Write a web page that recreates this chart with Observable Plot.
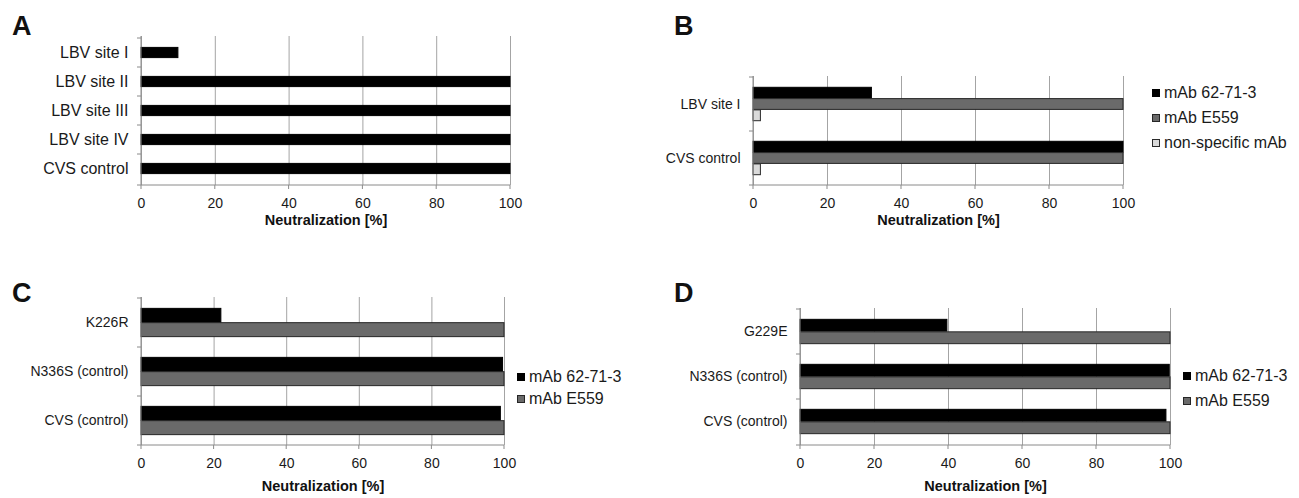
<!DOCTYPE html>
<html><head><meta charset="utf-8">
<script src="https://cdn.jsdelivr.net/npm/d3@7"></script>
<script src="https://cdn.jsdelivr.net/npm/@observablehq/plot@0.6"></script>
<style>
body{margin:0;background:#fff;}
#fig{position:relative;width:1299px;height:498px;font-family:"Liberation Sans",Arial,Helvetica,sans-serif;color:#111;overflow:hidden;background:#fff}
.panel{position:absolute}
.letter{position:absolute;font-weight:bold;font-size:27px;line-height:1;font-family:"Liberation Sans",Arial,sans-serif}
.item{position:absolute;white-space:nowrap;display:flex;align-items:center;transform:translateY(-50%);font-size:16px;line-height:1;color:#1a1a1a}
.sw{width:6px;height:6px;border:1px solid #1a1a1a;margin-right:4px;display:inline-block}
</style></head><body><div id="fig"></div><script>
// ---------------- data ----------------
const xTicks = [0, 20, 40, 60, 80, 100];
const axisTitle = "Neutralization [%]";

const panelACategories = ["LBV site I", "LBV site II", "LBV site III", "LBV site IV", "CVS control"];
const panelASeries = ["neutralization"];
const panelAValues = [10, 100, 100, 100, 100];

const panelBCategories = ["LBV site I", "CVS control"];
const panelBSeries = ["mAb 62-71-3", "mAb E559", "non-specific mAb"];
const panelB_mAb62713 = [32, 100];
const panelB_mAbE559 = [100, 100];
const panelB_nonSpecific = [2, 2];

const panelCCategories = ["K226R", "N336S (control)", "CVS (control)"];
const panelCSeries = ["mAb 62-71-3", "mAb E559"];
const panelC_mAb62713 = [22, 99.6, 99];
const panelC_mAbE559 = [100, 100, 100];

const panelDCategories = ["G229E", "N336S (control)", "CVS (control)"];
const panelDSeries = ["mAb 62-71-3", "mAb E559"];
const panelD_mAb62713 = [39.7, 99.8, 98.9];
const panelD_mAbE559 = [100, 100, 100];

// ---------------- styles ----------------
const FILLS = ["#000000", "#6a6a6a", "#dadada"];
const STROKES = ["#000000", "#262626", "#2a2a2a"];
const GRID = "#a4a4a4";
const AXIS = "#8a8a8a";
const FONT = '"Liberation Sans", Arial, Helvetica, sans-serif';

function toRows(categories, series, valueArrays) {
  const rows = [];
  series.forEach((s, k) => categories.forEach((c, i) => rows.push({category: c, series: s, k, value: valueArrays[k][i]})));
  return rows;
}

function axisLines(...args) {
  const scales = args.find(a => a && typeof a.x === "function" && typeof a.y === "function");
  const dims = args.find(a => a && typeof a.marginLeft === "number" && typeof a.height === "number");
  const top = dims.marginTop, bottom = dims.height - dims.marginBottom;
  const x = scales.x, y = scales.y;
  const x0 = x(0);
  const g = d3.create("svg:g").attr("stroke", AXIS).attr("fill", "none").attr("stroke-width", 1);
  g.append("line").attr("x1", x0).attr("x2", x0).attr("y1", top).attr("y2", bottom);
  g.append("line").attr("x1", x0).attr("x2", x(100)).attr("y1", bottom).attr("y2", bottom);
  const bounds = y.domain().map(d => y(d)).concat([bottom]);
  for (const b of bounds) g.append("line").attr("x1", x0 - 4).attr("x2", x0).attr("y1", b).attr("y2", b);
  for (const t of xTicks) g.append("line").attr("x1", x(t)).attr("x2", x(t)).attr("y1", bottom).attr("y2", bottom + 4);
  return g.node();
}

function panelChart({categories, series, values, width, height, mL, mR, mT, mB, barH, titleDy, yFont}) {
  const rows = toRows(categories, series, values);
  const band = (height - mT - mB) / categories.length;
  const n = series.length;
  const off = (band - n * barH) / 2;
  const marks = [
    Plot.ruleX(xTicks, {stroke: GRID, strokeWidth: 1}),
    ...series.map((s, k) => Plot.barX(rows.filter(r => r.k === k), {
      x: "value", y: "category", fill: FILLS[k], stroke: STROKES[k], strokeWidth: 1,
      insetTop: off + k * barH, insetBottom: band - off - (k + 1) * barH
    })),
    axisLines,
    Plot.text([axisTitle], {frameAnchor: "bottom", dy: titleDy, fontWeight: "bold", fontSize: 14.5, fill: "#111"})
  ];
  const svg = Plot.plot({
    width, height, marginLeft: mL, marginRight: mR, marginTop: mT, marginBottom: mB,
    style: {fontSize: "14px", fontFamily: FONT, color: "#1a1a1a", background: "transparent", overflow: "visible"},
    x: {domain: [0, 100], ticks: xTicks, tickSize: 0, tickPadding: 13, label: null},
    y: {domain: categories, padding: 0, tickSize: 0, tickPadding: 13, label: null},
    marks
  });
  if (yFont) {
    const yAxis = svg.querySelector('g[aria-label="y-axis"]') || svg.querySelector('g[aria-label="y-axis tick label"]');
    if (yAxis) yAxis.setAttribute("font-size", yFont);
    if (yAxis) yAxis.querySelectorAll("text").forEach(t => t.style.fontSize = yFont + "px");
  }
  return svg;
}

const fig = document.getElementById("fig");
function place(node, left, top) {
  const d = document.createElement("div");
  d.className = "panel"; d.style.left = left + "px"; d.style.top = top + "px";
  d.appendChild(node); fig.appendChild(d);
}
function letter(t, left, top) {
  const d = document.createElement("div");
  d.className = "letter"; d.textContent = t; d.style.left = left + "px"; d.style.top = top + "px";
  fig.appendChild(d);
}
function legend(series, left, tops) {
  series.forEach((s, k) => {
    const d = document.createElement("div");
    d.className = "item"; d.style.left = left + "px"; d.style.top = tops[k] + "px";
    const sw = document.createElement("span");
    sw.className = "sw"; sw.style.background = FILLS[k]; sw.style.borderColor = STROKES[k];
    d.appendChild(sw);
    d.appendChild(document.createTextNode(s));
    fig.appendChild(d);
  });
}

// Panel A
place(panelChart({categories: panelACategories, series: panelASeries, values: [panelAValues],
  width: 640, height: 240, mL: 141, mR: 130, mT: 36, mB: 55, barH: 11, titleDy: 39, yFont: 16}), 0, 0);
// Panel B
place(panelChart({categories: panelBCategories, series: panelBSeries,
  values: [panelB_mAb62713, panelB_mAbE559, panelB_nonSpecific],
  width: 659, height: 240, mL: 113, mR: 176, mT: 76, mB: 55, barH: 11.3, titleDy: 39}), 640, 0);
// Panel C
place(panelChart({categories: panelCCategories, series: panelCSeries,
  values: [panelC_mAb62713, panelC_mAbE559],
  width: 640, height: 238, mL: 141, mR: 136, mT: 37, mB: 53, barH: 14.3, titleDy: 45}), 0, 260);
// Panel D
place(panelChart({categories: panelDCategories, series: panelDSeries,
  values: [panelD_mAb62713, panelD_mAbE559],
  width: 659, height: 238, mL: 160, mR: 129, mT: 48, mB: 53, barH: 12.5, titleDy: 45}), 640, 260);

letter("A", 12, 13); letter("B", 674, 13);
letter("C", 12, 280); letter("D", 674, 280);

legend(panelBSeries, 1152, [93, 118, 143]);
legend(panelCSeries, 517, [377, 399]);
legend(panelDSeries, 1183, [376, 401]);
</script></body></html>
